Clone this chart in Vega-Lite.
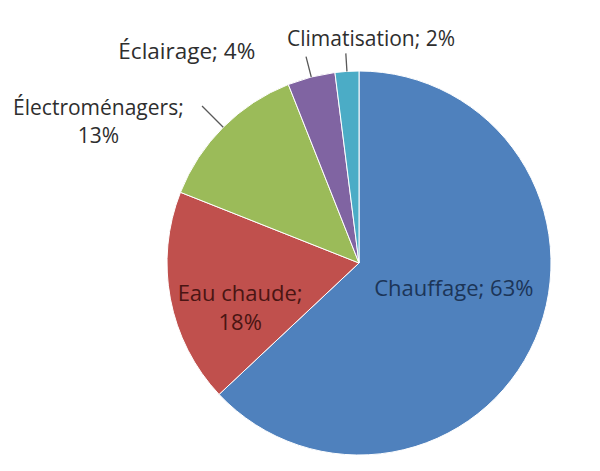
{
  "$schema": "https://vega.github.io/schema/vega-lite/v6.json",
  "width": 482,
  "height": 420,
  "autosize": "none",
  "padding": {"left": 118, "top": 53, "right": 0, "bottom": 0},
  "background": "white",
  "config": {"view": {"stroke": null}, "font": "Open Sans"},
  "data": {
    "values": [
      {"category": "Chauffage", "value": 63, "rank": 1, "label": "Chauffage; 63%"},
      {"category": "Eau chaude", "value": 18, "rank": 2, "label": "Eau chaude;\n18%"},
      {"category": "Électroménagers", "value": 13, "rank": 3, "label": "Électroménagers;\n13%"},
      {"category": "Éclairage", "value": 4, "rank": 4, "label": "Éclairage; 4%"},
      {"category": "Climatisation", "value": 2, "rank": 5, "label": "Climatisation; 2%"}
    ]
  },
  "layer": [
    {
      "mark": {"type": "arc", "radius": 192, "stroke": "#ffffff", "strokeWidth": 1},
      "encoding": {
        "theta": {"field": "value", "type": "quantitative", "stack": true},
        "order": {"field": "rank", "type": "quantitative", "sort": "ascending"},
        "color": {
          "field": "category",
          "type": "nominal",
          "scale": {
            "domain": ["Chauffage", "Eau chaude", "Électroménagers", "Éclairage", "Climatisation"],
            "range": ["#4F81BD", "#C0504D", "#9BBB59", "#8064A2", "#4BACC6"]
          },
          "legend": null
        }
      }
    },
    {
      "transform": [
        {"stack": "value", "groupby": [], "sort": [{"field": "rank", "order": "ascending"}], "as": ["v0", "v1"]},
        {"fold": ["v0", "v1"], "as": ["edge", "pos"]},
        {"aggregate": [{"op": "mean", "field": "pos", "as": "mid"}], "groupby": ["category"]},
        {"filter": {"field": "category", "equal": "Climatisation"}}
      ],
      "mark": {"type": "arc", "radius": 210, "radius2": 192, "stroke": "#595959", "strokeWidth": 1.3, "fill": null},
      "encoding": {
        "theta": {"field": "mid", "type": "quantitative", "stack": null},
        "theta2": {"field": "mid"}
      }
    },
    {
      "transform": [
        {"stack": "value", "groupby": [], "sort": [{"field": "rank", "order": "ascending"}], "as": ["v0", "v1"]},
        {"fold": ["v0", "v1"], "as": ["edge", "pos"]},
        {"aggregate": [{"op": "mean", "field": "pos", "as": "mid"}], "groupby": ["category"]},
        {"filter": {"field": "category", "equal": "Éclairage"}}
      ],
      "mark": {"type": "arc", "radius": 213, "radius2": 192, "stroke": "#595959", "strokeWidth": 1.3, "fill": null},
      "encoding": {
        "theta": {"field": "mid", "type": "quantitative", "stack": null},
        "theta2": {"field": "mid"}
      }
    },
    {
      "transform": [
        {"stack": "value", "groupby": [], "sort": [{"field": "rank", "order": "ascending"}], "as": ["v0", "v1"]},
        {"fold": ["v0", "v1"], "as": ["edge", "pos"]},
        {"aggregate": [{"op": "mean", "field": "pos", "as": "mid"}], "groupby": ["category"]},
        {"filter": {"field": "category", "equal": "Électroménagers"}}
      ],
      "mark": {"type": "arc", "radius": 222, "radius2": 192, "stroke": "#595959", "strokeWidth": 1.3, "fill": null},
      "encoding": {
        "theta": {"field": "mid", "type": "quantitative", "stack": null},
        "theta2": {"field": "mid"}
      }
    },
    {
      "mark": {"type": "text", "radius": 100, "dx": 3, "dy": -14, "fontSize": 22, "align": "center", "baseline": "middle", "color": "#1C3558", "lineBreak": "\n"},
      "encoding": {
        "theta": {"field": "value", "type": "quantitative", "stack": true},
        "order": {"field": "rank", "type": "quantitative", "sort": "ascending"},
        "detail": {"field": "category"},
        "text": {"condition": {"test": "datum.category === 'Chauffage'", "field": "label"}, "value": ""}
      }
    },
    {
      "mark": {"type": "text", "radius": 121, "dx": 0, "dy": 8, "fontSize": 22, "lineHeight": 29, "align": "center", "baseline": "middle", "color": "#4A1513", "lineBreak": "\n"},
      "encoding": {
        "theta": {"field": "value", "type": "quantitative", "stack": true},
        "order": {"field": "rank", "type": "quantitative", "sort": "ascending"},
        "detail": {"field": "category"},
        "text": {"condition": {"test": "datum.category === 'Eau chaude'", "field": "label"}, "value": ""}
      }
    },
    {
      "mark": {"type": "text", "radius": 230, "dx": -98, "dy": 9, "fontSize": 21, "lineHeight": 28, "align": "center", "baseline": "middle", "color": "#2E2E2E", "lineBreak": "\n"},
      "encoding": {
        "theta": {"field": "value", "type": "quantitative", "stack": true},
        "order": {"field": "rank", "type": "quantitative", "sort": "ascending"},
        "detail": {"field": "category"},
        "text": {"condition": {"test": "datum.category === 'Électroménagers'", "field": "label"}, "value": ""}
      }
    },
    {
      "mark": {"type": "text", "radius": 212, "dx": -51, "dy": -6, "fontSize": 22.5, "align": "right", "baseline": "middle", "color": "#2E2E2E", "lineBreak": "\n"},
      "encoding": {
        "theta": {"field": "value", "type": "quantitative", "stack": true},
        "order": {"field": "rank", "type": "quantitative", "sort": "ascending"},
        "detail": {"field": "category"},
        "text": {"condition": {"test": "datum.category === 'Éclairage'", "field": "label"}, "value": ""}
      }
    },
    {
      "mark": {"type": "text", "radius": 222, "dx": 26, "dy": -1, "fontSize": 21, "align": "center", "baseline": "middle", "color": "#2E2E2E", "lineBreak": "\n"},
      "encoding": {
        "theta": {"field": "value", "type": "quantitative", "stack": true},
        "order": {"field": "rank", "type": "quantitative", "sort": "ascending"},
        "detail": {"field": "category"},
        "text": {"condition": {"test": "datum.category === 'Climatisation'", "field": "label"}, "value": ""}
      }
    }
  ]
}
